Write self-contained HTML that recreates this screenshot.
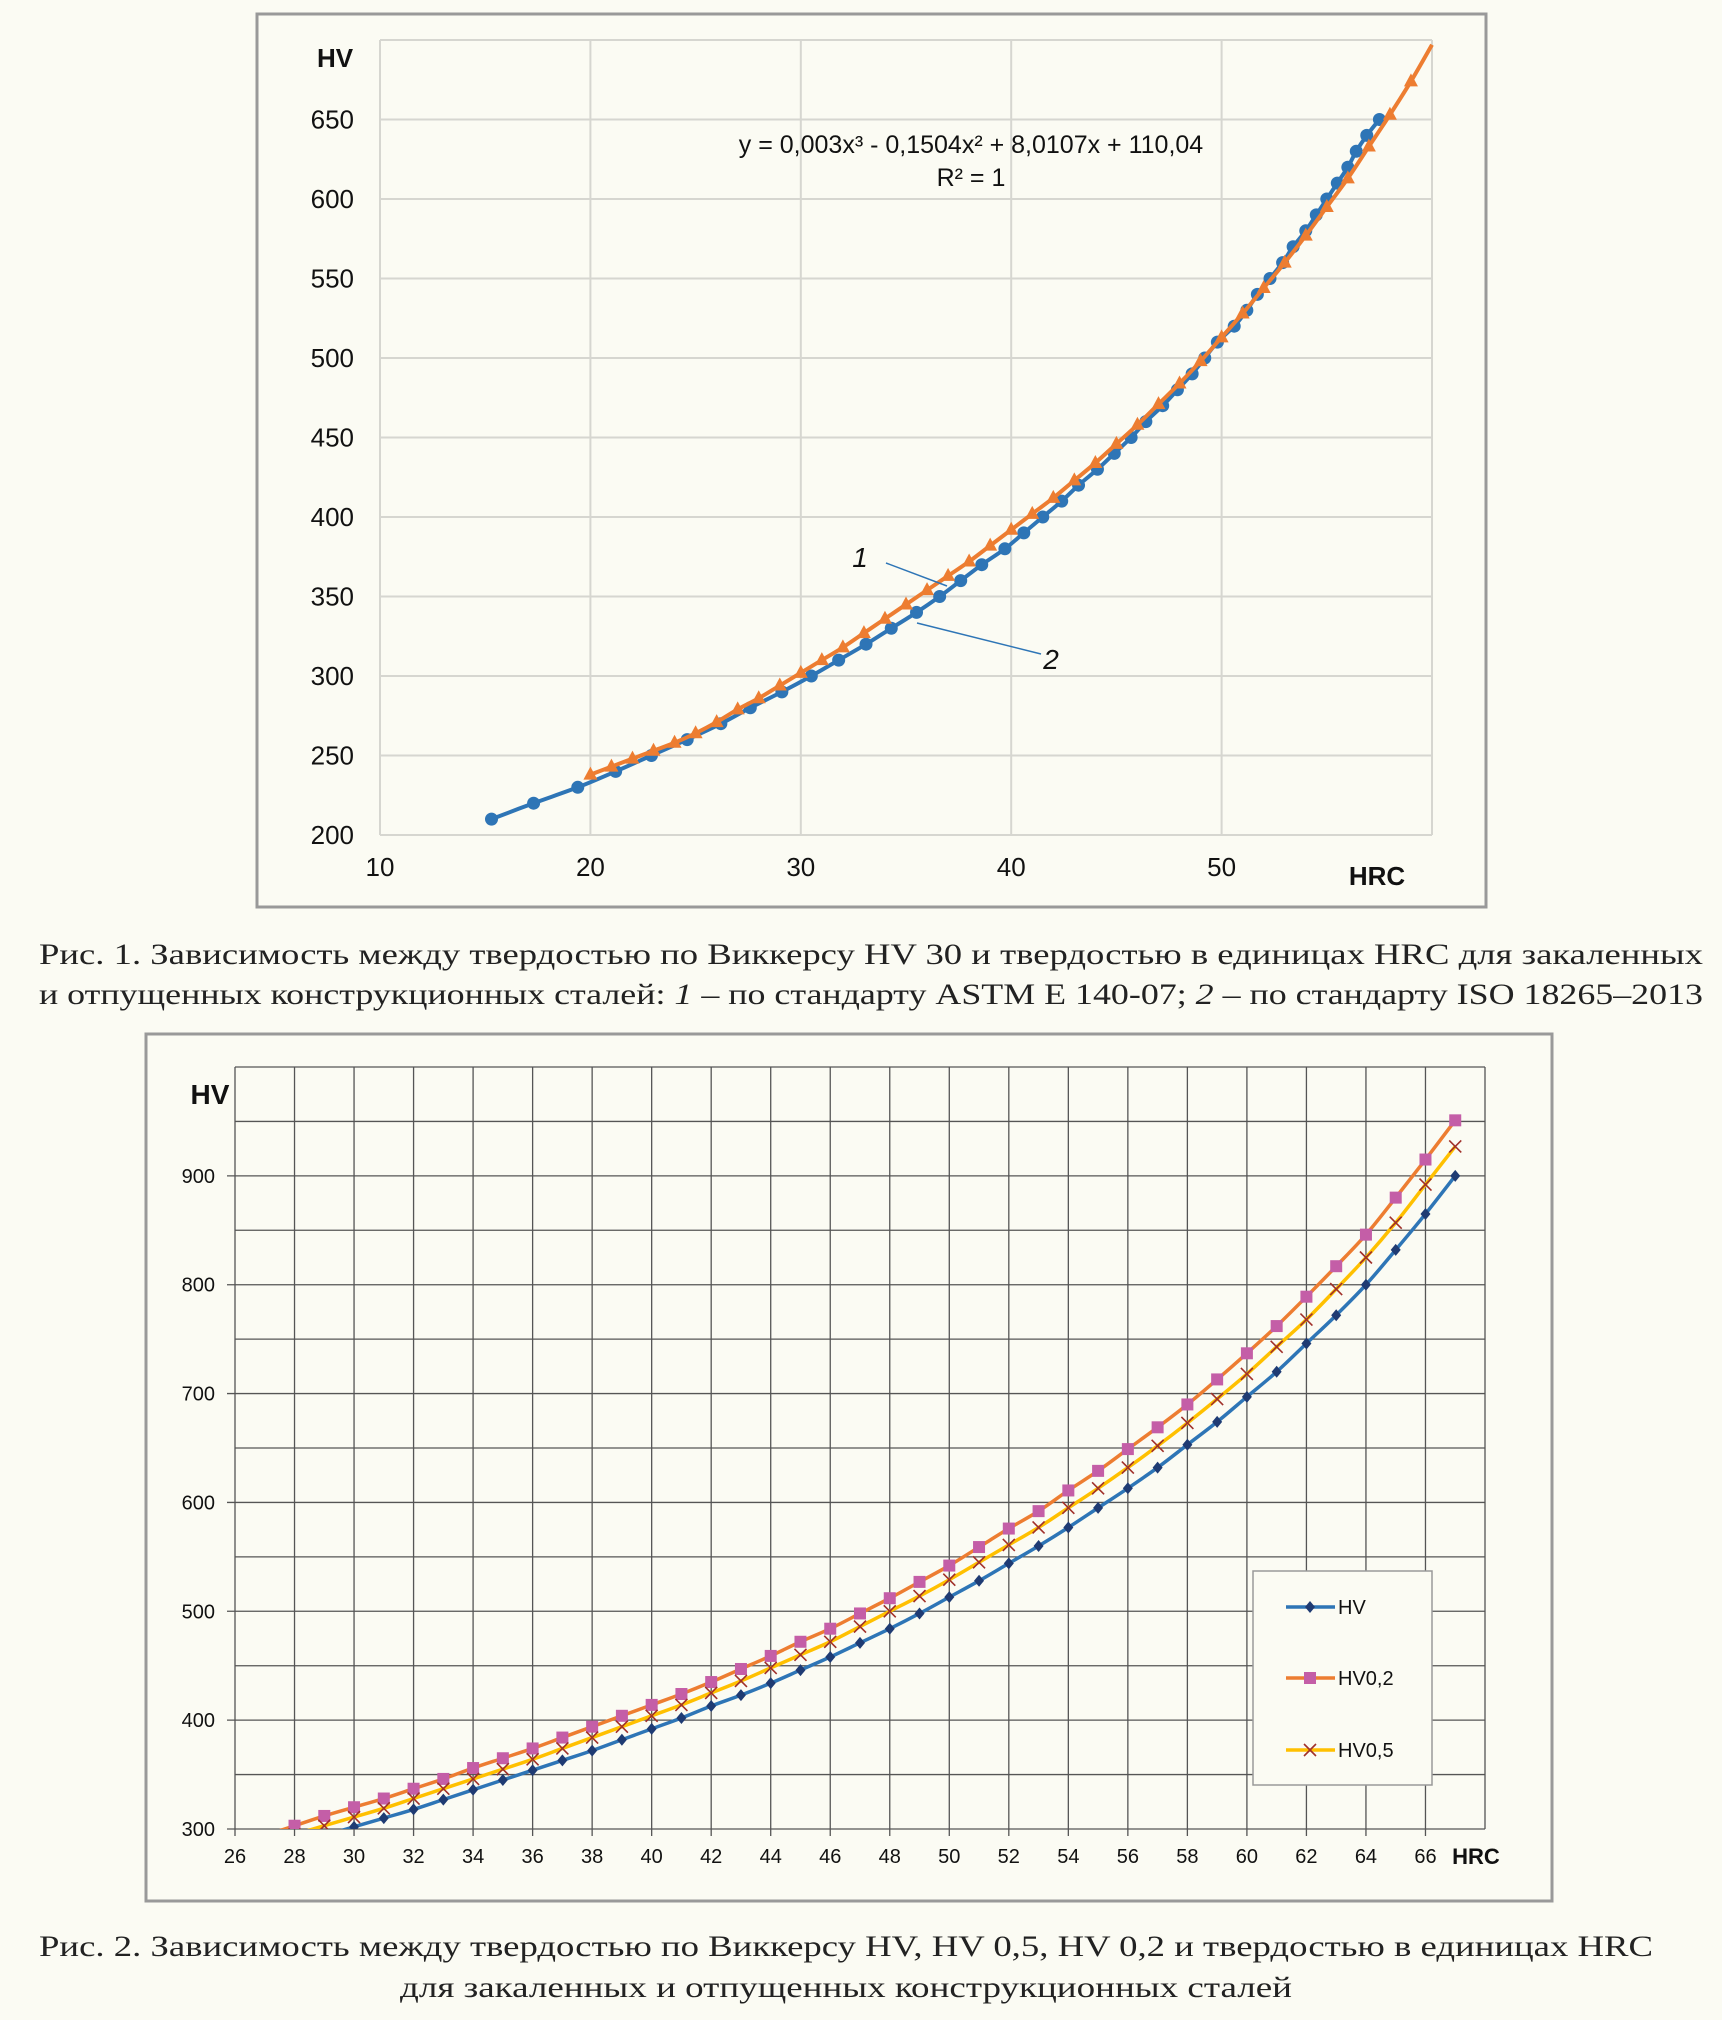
<!DOCTYPE html>
<html><head><meta charset="utf-8"><style>
html,body{margin:0;padding:0;background:#fbfbf3;}
svg{display:block;font-family:"Liberation Sans",sans-serif;}
.cap{font-family:"Liberation Serif","Noto Serif CJK SC",serif;font-size:30px;fill:#222;}
</style></head><body>
<svg id="page" width="1722" height="2020" viewBox="0 0 1722 2020" xmlns="http://www.w3.org/2000/svg">
<rect x="0" y="0" width="1722" height="2020" fill="#fbfbf3"/>
<g id="c1"></g>
<g id="c2"></g>
<text class="cap" x="871" y="964" text-anchor="middle" textLength="1664" lengthAdjust="spacingAndGlyphs">Рис. 1. Зависимость между твердостью по Виккерсу HV 30 и твердостью в единицах HRC для закаленных</text>
<text class="cap" x="871" y="1004" text-anchor="middle" textLength="1664" lengthAdjust="spacingAndGlyphs">и отпущенных конструкционных сталей: <tspan font-style="italic">1</tspan> – по стандарту ASTM E 140-07; <tspan font-style="italic">2</tspan> – по стандарту ISO 18265–2013</text>
<text class="cap" x="846" y="1956" text-anchor="middle" textLength="1614" lengthAdjust="spacingAndGlyphs">Рис. 2. Зависимость между твердостью по Виккерсу HV, HV 0,5, HV 0,2 и твердостью в единицах HRC</text>
<text class="cap" x="846" y="1997" text-anchor="middle" textLength="892" lengthAdjust="spacingAndGlyphs">для закаленных и отпущенных конструкционных сталей</text>
</svg>
<script>
// ---- Chart 1 data ----
const c1IsoHRC = [15.3,17.3,19.4,21.2,22.9,24.6,26.2,27.6,29.1,30.5,31.8,33.1,34.3,35.5,36.6,37.6,38.6,39.7,40.6,41.5,42.4,43.2,44.1,44.9,45.7,46.4,47.2,47.9,48.6,49.2,49.8,50.6,51.2,51.7,52.3,52.9,53.4,54.0,54.5,55.0,55.5,56.0,56.4,56.9,57.5];
const c1IsoHV = [210,220,230,240,250,260,270,280,290,300,310,320,330,340,350,360,370,380,390,400,410,420,430,440,450,460,470,480,490,500,510,520,530,540,550,560,570,580,590,600,610,620,630,640,650];
const c1AstmHRC = [20,21,22,23,24,25,26,27,28,29,30,31,32,33,34,35,36,37,38,39,40,41,42,43,44,45,46,47,48,49,50,51,52,53,54,55,56,57,58,59,60];
const c1AstmHV = [238,243,248,253,258,264,271,279,286,294,302,310,318,327,336,345,354,363,372,382,392,402,412,423,434,446,458,471,484,498,513,528,544,560,577,595,613,633,653,674,697];
const c1XTicks = [10,20,30,40,50];
const c1YTicks = [200,250,300,350,400,450,500,550,600,650];
// ---- Chart 2 data ----
const c2HRC = [27,28,29,30,31,32,33,34,35,36,37,38,39,40,41,42,43,44,45,46,47,48,49,50,51,52,53,54,55,56,57,58,59,60,61,62,63,64,65,66,67];
const c2HV = [278,286,294,302,310,318,327,336,345,354,363,372,382,392,402,413,423,434,446,458,471,484,498,513,528,544,560,577,595,613,632,653,674,697,720,746,772,800,832,865,900];
const c2HV02 = [294,303,312,320,328,337,346,356,365,374,384,394,404,414,424,435,447,459,472,484,498,512,527,542,559,576,592,611,629,649,669,690,713,737,762,789,817,846,880,915,951];
const c2HV05 = [287,295,303,311,319,328,337,346,355,364,374,384,394,404,414,425,436,448,460,472,486,500,514,529,545,561,577,595,613,632,652,673,695,718,743,768,796,825,857,892,927];
const c2XTicks = [26,28,30,32,34,36,38,40,42,44,46,48,50,52,54,56,58,60,62,64,66];
const c2YTicks = [300,400,500,600,700,800,900];

const NS="http://www.w3.org/2000/svg";
function mk(parent,tag,attrs,text){const e=document.createElementNS(NS,tag);for(const k in attrs)e.setAttribute(k,attrs[k]);if(text!==undefined)e.textContent=text;parent.appendChild(e);return e;}
function smooth(pts){let d="M"+pts[0][0]+","+pts[0][1];for(let i=0;i<pts.length-1;i++){const p0=pts[i-1]||pts[i],p1=pts[i],p2=pts[i+1],p3=pts[i+2]||p2;const c1x=p1[0]+(p2[0]-p0[0])/6,c1y=p1[1]+(p2[1]-p0[1])/6,c2x=p2[0]-(p3[0]-p1[0])/6,c2y=p2[1]-(p3[1]-p1[1])/6;d+=" C"+c1x+","+c1y+" "+c2x+","+c2y+" "+p2[0]+","+p2[1];}return d;}

// ===== Chart 1 =====
(function(){
const g=document.getElementById('c1');
const L=380,R=1432,T=40,B=835;
const x=v=>L+(v-10)*(R-L)/50, y=v=>B-(v-200)*(B-T)/500;
const fr=mk(g,'rect',{x:257,y:14,width:1229,height:893,fill:'#fbfbf3',stroke:'#999','stroke-width':3});


for(const t of c1YTicks.concat([700])){const l=mk(g,'line',{x1:L,x2:R,y1:y(t),y2:y(t),stroke:'#d6d6d0','stroke-width':2});

}
for(const t of c1XTicks.concat([60])){const l=mk(g,'line',{x1:x(t),x2:x(t),y1:T,y2:B,stroke:'#d6d6d0','stroke-width':2});

}
for(const t of c1YTicks){const e=mk(g,'text',{x:354,y:y(t)+9,'text-anchor':'end','font-size':26,fill:'#111'},t);

}
for(const t of c1XTicks){const e=mk(g,'text',{x:x(t),y:876,'text-anchor':'middle','font-size':26,fill:'#111'},t);

}
let e=mk(g,'text',{x:335,y:67,'text-anchor':'middle','font-size':26,'font-weight':'bold',fill:'#111'},'HV');


e=mk(g,'text',{x:1377,y:885,'text-anchor':'middle','font-size':26,'font-weight':'bold',fill:'#111'},'HRC');


e=mk(g,'text',{x:971,y:153,'text-anchor':'middle','font-size':25,fill:'#111'},'y = 0,003x³ - 0,1504x² + 8,0107x + 110,04');


e=mk(g,'text',{x:971,y:186,'text-anchor':'middle','font-size':25,fill:'#111'},'R² = 1');


const cp=mk(g,'clipPath',{id:'clip1'});mk(cp,'rect',{x:L,y:T-4,width:R-L+4,height:B-T+4});
const s=mk(g,'g',{'clip-path':'url(#clip1)'});
const iso=c1IsoHRC.map((h,i)=>[x(h),y(c1IsoHV[i])]);
e=mk(s,'path',{d:smooth(iso),fill:'none',stroke:'#2e75b6','stroke-width':4});


for(const p of iso){const c=mk(s,'circle',{cx:p[0],cy:p[1],r:6.5,fill:'#2e75b6'});

}
const astm=c1AstmHRC.map((h,i)=>[x(h),y(c1AstmHV[i])]);
e=mk(s,'path',{d:smooth(astm),fill:'none',stroke:'#ed7d31','stroke-width':4});


for(const p of astm.slice(0,-1)){const t=mk(s,'path',{d:`M${p[0]},${p[1]-8} L${p[0]+7},${p[1]+5} L${p[0]-7},${p[1]+5}Z`,fill:'#ed7d31'});

}
e=mk(g,'line',{x1:886,y1:563,x2:947,y2:586,stroke:'#2e75b6','stroke-width':1.5});


e=mk(g,'line',{x1:917,y1:623,x2:1041,y2:654,stroke:'#2e75b6','stroke-width':1.5});


e=mk(g,'text',{x:860,y:567,'text-anchor':'middle','font-size':28,'font-style':'italic',fill:'#111'},'1');


e=mk(g,'text',{x:1051,y:669,'text-anchor':'middle','font-size':28,'font-style':'italic',fill:'#111'},'2');


})();

// ===== Chart 2 =====
(function(){
const g=document.getElementById('c2');
const L=235,R=1485,T=1067,B=1829;
const x=v=>L+(v-26)*(R-L)/42, y=v=>B-(v-300)*(B-T)/700;
let e=mk(g,'rect',{x:146,y:1034,width:1406,height:867,fill:'#fbfbf3',stroke:'#999','stroke-width':3});


for(let v=300;v<=1000;v+=50){const l=mk(g,'line',{x1:(v%100===0&&v<1000)?L-8:L,x2:R,y1:y(v),y2:y(v),stroke:'#555','stroke-width':1.3});

}
for(let v=26;v<=68;v+=2){const l=mk(g,'line',{x1:x(v),x2:x(v),y1:T,y2:v<68?B+7:B,stroke:'#555','stroke-width':1.3});

}
for(const t of c2YTicks){const q=mk(g,'text',{x:215,y:y(t)+7,'text-anchor':'end','font-size':20,fill:'#111'},t);

}
for(const t of c2XTicks){const q=mk(g,'text',{x:x(t),y:1863,'text-anchor':'middle','font-size':20,fill:'#111'},t);

}
e=mk(g,'text',{x:210,y:1104,'text-anchor':'middle','font-size':28,'font-weight':'bold',fill:'#111'},'HV');


e=mk(g,'text',{x:1476,y:1864,'text-anchor':'middle','font-size':22,'font-weight':'bold',fill:'#111'},'HRC');


const cp=mk(g,'clipPath',{id:'clip2'});mk(cp,'rect',{x:L,y:T,width:R-L,height:B-T});
const s=mk(g,'g',{'clip-path':'url(#clip2)'});
const ser=[[c2HV,'#2e75b6','hv'],[c2HV02,'#ed7d31','hv02'],[c2HV05,'#ffc000','hv05']];
for(const [vals,col,nm] of ser){
 const pts=c2HRC.map((h,i)=>[x(h),y(vals[i])]);
 const p=mk(s,'path',{d:smooth(pts),fill:'none',stroke:col,'stroke-width':3.5});
 
 
}
const sp=(vals)=>c2HRC.map((h,i)=>[x(h),y(vals[i])]);
for(const p of sp(c2HV)){const m=mk(s,'path',{d:`M${p[0]},${p[1]-6} L${p[0]+5},${p[1]} L${p[0]},${p[1]+6} L${p[0]-5},${p[1]}Z`,fill:'#1f3b73'});

}
for(const p of sp(c2HV02)){const m=mk(s,'rect',{x:p[0]-6,y:p[1]-6,width:12,height:12,fill:'#c45ea7'});

}
for(const p of sp(c2HV05)){const m=mk(s,'path',{d:`M${p[0]-6},${p[1]-6} L${p[0]+6},${p[1]+6} M${p[0]+6},${p[1]-6} L${p[0]-6},${p[1]+6}`,stroke:'#a0302a','stroke-width':1.6,fill:'none'});

}
const lg=mk(g,'g',{});


mk(lg,'rect',{x:1253,y:1571,width:179,height:214,fill:'#fbfbf3',stroke:'#999','stroke-width':1.5});
const ent=[['HV','#2e75b6',1607],['HV0,2','#ed7d31',1678],['HV0,5','#ffc000',1750]];
ent.forEach(([lab,col,yy],i)=>{
 const ge=mk(lg,'g',{});
 
 
 mk(ge,'line',{x1:1286,x2:1335,y1:yy,y2:yy,stroke:col,'stroke-width':3.5});
 if(i===0)mk(ge,'path',{d:`M1310,${yy-6} L1315,${yy} L1310,${yy+6} L1305,${yy}Z`,fill:'#1f3b73'});
 if(i===1)mk(ge,'rect',{x:1304,y:yy-6,width:12,height:12,fill:'#c45ea7'});
 if(i===2)mk(ge,'path',{d:`M1304,${yy-6} L1316,${yy+6} M1316,${yy-6} L1304,${yy+6}`,stroke:'#a0302a','stroke-width':1.6});
 mk(ge,'text',{x:1338,y:yy+7,'font-size':20,fill:'#111'},lab);
});
})();
</script>
</body></html>
